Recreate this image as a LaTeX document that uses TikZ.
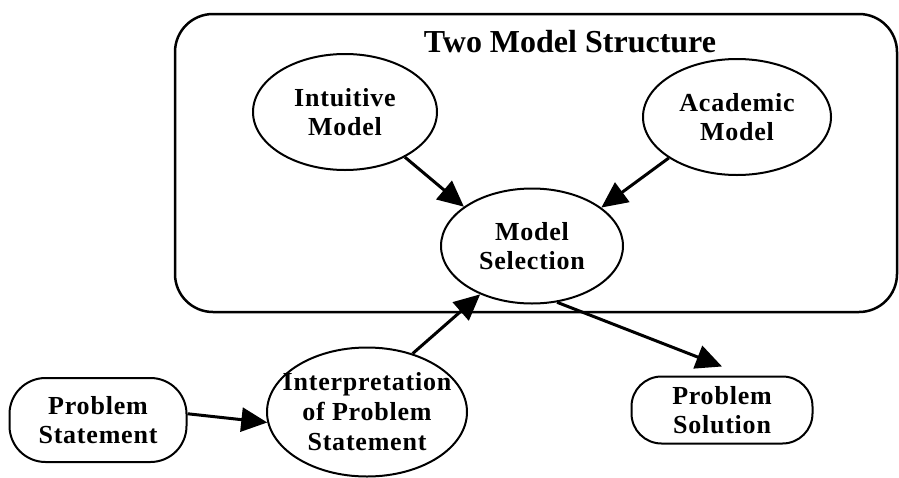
\documentclass[tikz,border=0pt]{standalone}
\usepackage{fontspec}
\setmainfont{Liberation Serif}
\newfontfamily\spacedfont[LetterSpace=3]{Liberation Serif}
\usetikzlibrary{arrows.meta, shapes.geometric}
\tikzset{
  model/.style={
    ellipse, draw, line width=2pt, inner sep=0pt, align=center,
    minimum width=184pt, minimum height=116pt,
    font=\spacedfont\fontsize{26}{29}\selectfont\bfseries
  },
  terminal/.style={
    rectangle, draw, line width=2pt, inner sep=0pt, align=center,
    font=\spacedfont\fontsize{26}{29}\selectfont\bfseries
  },
  frame/.style={rectangle, draw, line width=2.5pt, rounded corners=38pt},
  every edge/.style={draw, line width=3pt, -{Triangle[length=26pt, width=24pt]}},
}
\begin{document}
\begin{tikzpicture}[x=1pt, y=-1pt]
  \useasboundingbox (0,0) rectangle (899,477);
  \node[frame, minimum width=722pt, minimum height=298pt] (structure) at (536,163) {};
  \node[anchor=base, font=\fontsize{32}{35}\selectfont\bfseries] (title) at (570,52) {Two Model Structure};

  \node[model] (intuitive) at (345,112) {Intuitive\\Model};
  \node[model, minimum width=188pt] (academic) at (737,117) {Academic\\Model};
  \node[model, minimum width=182pt, minimum height=115pt] (select) at (532,246) {Model\\Selection};
  \node[terminal, minimum width=177pt, minimum height=84pt, rounded corners=36pt] (statement) at (98,420) {Problem\\Statement};
  \node[model, minimum width=200pt, minimum height=129pt, inner xsep=-14pt,
        font=\spacedfont\fontsize{26}{30}\selectfont\bfseries] (interp) at (367,412) {Interpretation\\of Problem\\Statement};
  \node[terminal, minimum width=181pt, minimum height=67pt, rounded corners=30pt] (solution) at (722,410) {Problem\\Solution};

  \path (intuitive.-37) edge (select.150)
        (academic.-149) edge (select.29)
        (statement.4) edge (interp.186)
        (interp.52) edge (select.-137)
        (select.-66) edge ([yshift=9pt]solution.north);
\end{tikzpicture}
\end{document}
